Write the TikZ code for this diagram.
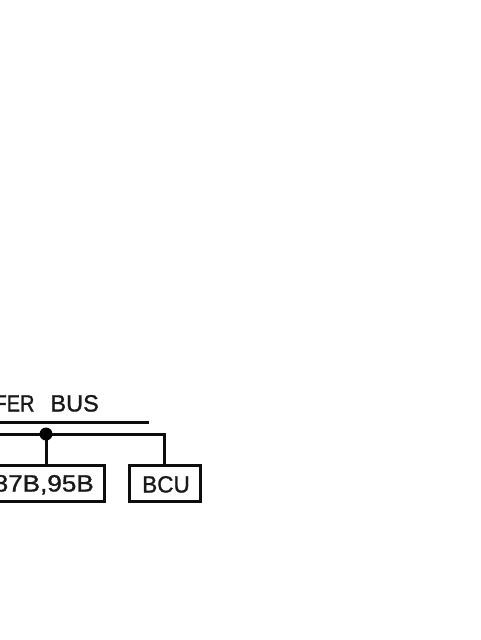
\documentclass[tikz,border=0pt]{standalone}
\usepackage{fontspec}
\setmainfont[RawFeature={embolden=1.2}]{Liberation Sans}
\tikzset{
  wire/.style={line width=3pt,line cap=butt,black!95},
  unitbox/.style={draw=black!95,line width=3pt,minimum height=36pt,inner sep=0pt},
  lbl/.style={font=\fontsize{23.5pt}{23.5pt}\selectfont,inner sep=0pt,text=black!90,anchor=base east,transform shape}
}
\begin{document}
\begin{tikzpicture}[x=1pt,y=-1pt]
\useasboundingbox (0,0) rectangle (480,640);
\clip (0,0) rectangle (480,640);
\fill[white] (0,0) rectangle (480,640);
\coordinate (busL) at (-5,422);
\coordinate (busR) at (149,422);
\coordinate (tapL) at (-5,434);
\coordinate (tapJ) at (46,434);
\coordinate (tapC) at (164,434);
\node[unitbox,minimum width=124.2pt] (boxA) at (42.1,483.4) {};
\node[unitbox,minimum width=70.4pt] (boxB) at (165,483.4) {};
\node[lbl] (title) at (99,411.5) {\scalebox{.85}[1]{FER}\hspace{16pt}BUS};
\node[lbl,xscale=1.11] (textA) at (94,491.5) {87B,95B};
\node[lbl,xscale=.96] (textB) at (190,492.5) {BCU};
\draw[wire] (busL) -- (busR);
\draw[wire] (tapL) -- (tapC) -- (tapC |- boxB.north);
\draw[wire] (tapJ) -- (tapJ |- boxA.north);
\fill[black] (tapJ) circle (6.5pt);
\end{tikzpicture}
\end{document}
